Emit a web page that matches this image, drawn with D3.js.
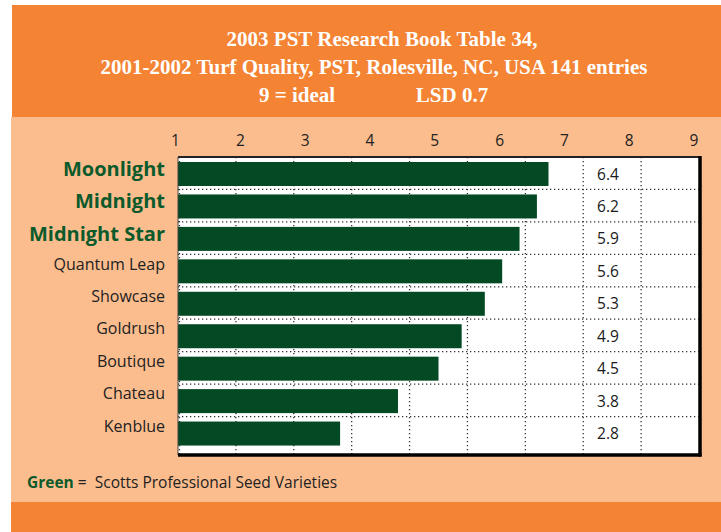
<!DOCTYPE html>
<html>
<head>
<meta charset="utf-8">
<script src="https://cdn.jsdelivr.net/npm/d3@7"></script>
<style>
  body { margin: 0; background: #fff; }
  svg { display: block; }
</style>
</head>
<body>
<div class="canvas"></div>
<script>
// data
const varieties = ['Moonlight', 'Midnight', 'Midnight Star', 'Quantum Leap', 'Showcase', 'Goldrush', 'Boutique', 'Chateau', 'Kenblue']
const quality = [6.4, 6.2, 5.9, 5.6, 5.3, 4.9, 4.5, 3.8, 2.8]
const scottsVarieties = ['Moonlight', 'Midnight', 'Midnight Star']
const tickLabels = [1, 2, 3, 4, 5, 6, 7, 8, 9]
const titleLines = [
  '2003 PST Research Book Table 34,',
  '2001-2002 Turf Quality, PST, Rolesville, NC, USA 141 entries'
]

const rows = varieties.map((name, i) => ({ name, value: quality[i] }))

const dims = { width: 721, height: 532 }
const orange = '#f48333'
const peach = '#fbbd8d'
const barGreen = '#034a24'
const textGreen = '#0b5a2b'
const sans = '"Open Sans", "Noto Sans", sans-serif'

const svg = d3.select('.canvas')
  .append('svg')
  .attr('width', dims.width)
  .attr('height', dims.height)

// background panels
svg.append('rect')
  .attr('x', 12).attr('y', 5)
  .attr('width', dims.width - 12).attr('height', 112)
  .attr('fill', orange)
svg.append('rect')
  .attr('x', 11).attr('y', 117)
  .attr('width', dims.width - 11).attr('height', 385)
  .attr('fill', peach)
svg.append('rect')
  .attr('x', 11).attr('y', 502)
  .attr('width', dims.width - 11).attr('height', 30)
  .attr('fill', orange)

// title
const title = svg.append('g')
  .attr('fill', '#fff')
  .attr('font-family', '"Liberation Serif", "DejaVu Serif", serif')
  .attr('font-weight', 'bold')
  .attr('font-size', 21)
  .attr('text-anchor', 'middle')

title.selectAll('text.line')
  .data(titleLines)
  .enter()
  .append('text')
    .attr('class', 'line')
    .attr('x', (d, i) => i === 0 ? 382 : 374)
    .attr('y', (d, i) => 46 + i * 28)
    .text(d => d)

title.append('text').attr('x', 297).attr('y', 102).text('9 = ideal')
title.append('text').attr('x', 452).attr('y', 102).text('LSD 0.7')

// scales - bars & grid use 0..9 across the frame, labels sit on their own spacing
const x = d3.scaleLinear()
  .domain([0, 9])
  .range([178, 699])

const tickX = d3.scaleLinear()
  .domain([1, 9])
  .range([175, 693.5])

const y = d3.scaleBand()
  .domain(varieties)
  .range([157, 449])

const plot = { top: 157, bottom: 455, left: 178, right: 700 }

// plot area
svg.append('rect')
  .attr('x', plot.left)
  .attr('y', plot.top)
  .attr('width', plot.right - plot.left)
  .attr('height', plot.bottom - plot.top)
  .attr('fill', '#fff')

// dotted grid
const grid = svg.append('g')
  .attr('stroke', '#333')
  .attr('stroke-width', 1.3)
  .attr('stroke-dasharray', '1.3,2.7')

grid.selectAll('line.v')
  .data(d3.range(0, 9))
  .enter()
  .append('line')
    .attr('class', 'v')
    .attr('x1', d => x(d) + (d === 0 ? 1.5 : 0))
    .attr('x2', d => x(d) + (d === 0 ? 1.5 : 0))
    .attr('y1', plot.top)
    .attr('y2', plot.bottom)

grid.selectAll('line.h')
  .data(varieties.slice(1))
  .enter()
  .append('line')
    .attr('class', 'h')
    .attr('x1', plot.left)
    .attr('x2', plot.right)
    .attr('y1', d => y(d))
    .attr('y2', d => y(d))

// bars
svg.selectAll('rect.bar')
  .data(rows)
  .enter()
  .append('rect')
    .attr('class', 'bar')
    .attr('fill', barGreen)
    .attr('x', x(0))
    .attr('y', d => y(d.name) + 5)
    .attr('width', d => x(d.value) - x(0))
    .attr('height', 24)

// frame
svg.append('line')
  .attr('x1', plot.left).attr('x2', plot.right)
  .attr('y1', plot.top).attr('y2', plot.top)
  .attr('stroke', '#222').attr('stroke-width', 2)
svg.append('line')
  .attr('x1', plot.left).attr('x2', plot.left)
  .attr('y1', plot.top).attr('y2', plot.bottom)
  .attr('stroke', '#444').attr('stroke-width', 1)
svg.append('line')
  .attr('x1', plot.right).attr('x2', plot.right)
  .attr('y1', plot.top - 1).attr('y2', plot.bottom + 1.5)
  .attr('stroke', '#000').attr('stroke-width', 3.5)
svg.append('line')
  .attr('x1', plot.left).attr('x2', plot.right + 1.5)
  .attr('y1', plot.bottom).attr('y2', plot.bottom)
  .attr('stroke', '#000').attr('stroke-width', 3.5)

// value labels
svg.selectAll('text.value')
  .data(rows)
  .enter()
  .append('text')
    .attr('class', 'value')
    .attr('x', 608)
    .attr('y', d => y(d.name) + 5 + 12 + 5.5)
    .attr('text-anchor', 'middle')
    .attr('font-family', sans)
    .attr('font-size', 15.5)
    .attr('fill', '#1a1a1a')
    .text(d => d.value.toFixed(1))

// category labels
svg.selectAll('text.name')
  .data(rows)
  .enter()
  .append('text')
    .attr('class', 'name')
    .attr('x', 165)
    .attr('y', d => y(d.name) + y.bandwidth() / 2 + (scottsVarieties.includes(d.name) ? 2.5 : -1))
    .attr('text-anchor', 'end')
    .attr('font-family', sans)
    .attr('font-size', d => scottsVarieties.includes(d.name) ? 20 : 16)
    .attr('font-weight', d => scottsVarieties.includes(d.name) ? 'bold' : 'normal')
    .attr('fill', d => scottsVarieties.includes(d.name) ? textGreen : '#222')
    .text(d => d.name)

// top tick labels
const axis = svg.append('g')
  .attr('transform', 'translate(0, 146)')
  .call(d3.axisTop(tickX).tickValues(tickLabels).tickSize(0).tickPadding(0))

axis.select('.domain').remove()
axis.selectAll('text')
  .attr('font-family', sans)
  .attr('font-size', 15.5)
  .attr('fill', '#222')
  .attr('dy', 0)

// footer note
const note = svg.append('text')
  .attr('x', 27)
  .attr('y', 488)
  .attr('font-family', sans)
  .attr('font-size', 15.5)
  .attr('fill', '#222')

note.append('tspan')
  .attr('font-weight', 'bold')
  .attr('fill', textGreen)
  .text('Green')
note.append('tspan').text(' =\u00a0\u00a0Scotts Professional Seed Varieties')
</script>
</body>
</html>
